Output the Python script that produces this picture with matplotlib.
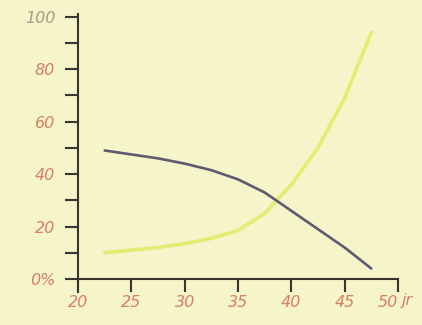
import matplotlib
matplotlib.use("Agg")
import matplotlib.pyplot as plt
import numpy as np

# Data
age = [22.5, 25, 27.5, 30, 32.5, 35, 37.5, 40, 42.5, 45, 47.5]
dark_series = [49, 47.5, 46, 44, 41.5, 38, 33, 26, 19, 12, 4]
yellow_series = [10, 11, 12, 13.5, 15.5, 18.5, 25, 36, 50, 69, 94]
x_ticks = [20, 25, 30, 35, 40, 45, 50]
x_labels = ["20", "25", "30", "35", "40", "45", "50"]
y_ticks = [0, 20, 40, 60, 80, 100]
y_labels = ["0%", "20", "40", "60", "80", "100"]

bg = "#f6f4c9"
label_col = "#d77f66"

fig = plt.figure(figsize=(4.22, 3.25), dpi=100, facecolor=bg)
ax = fig.add_axes([0.185, 0.1415, 0.758, 0.807])
ax.set_facecolor(bg)

ax.plot(age, yellow_series, color="#e4ec72", lw=2.6, solid_capstyle="round")
ax.plot(age, dark_series, color="#5e5a70", lw=1.9, solid_capstyle="round")

ax.set_xlim(20, 50)
ax.set_ylim(0, 100)
for s in ["top", "right"]:
    ax.spines[s].set_visible(False)
for s in ["left", "bottom"]:
    ax.spines[s].set_color("#3a3530")
    ax.spines[s].set_linewidth(1.5)
ax.spines["left"].set_bounds(-5, 101)
ax.spines["bottom"].set_bounds(20, 50)

ax.set_xticks(x_ticks)
ax.set_xticklabels(x_labels)
ax.set_yticks(y_ticks)
ax.set_yticklabels(y_labels)
ax.set_yticks([10, 30, 50, 70, 90], minor=True)
ax.tick_params(axis="both", which="both", direction="out", length=9.5,
               width=1.5, color="#3a3530")
ax.tick_params(axis="y", pad=7)
ax.tick_params(axis="x", pad=2)
for lab in ax.get_xticklabels() + ax.get_yticklabels():
    lab.set_color(label_col)
    lab.set_fontstyle("italic")
    lab.set_fontsize(11.5)
ax.get_yticklabels()[-1].set_color("#a89a86")
ax.get_xticklabels()[-1].set_horizontalalignment("right")

ax.text(50.35, -5.3, "jr", color=label_col, fontsize=11.5, fontstyle="italic",
        ha="left", va="top", clip_on=False)

fig.savefig("out.png", dpi=100, facecolor=bg)
